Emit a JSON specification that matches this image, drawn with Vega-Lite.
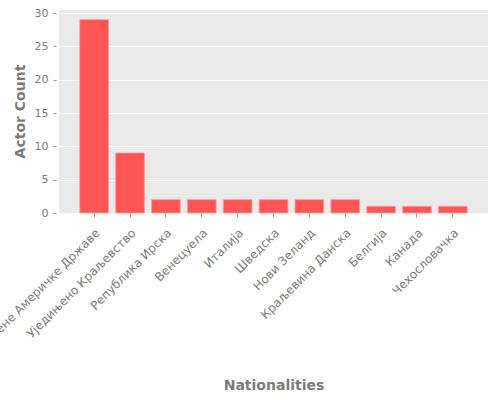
{
  "$schema": "https://vega.github.io/schema/vega-lite/v6.json",
  "width": 429,
  "height": 203,
  "autosize": {"type": "none"},
  "padding": {"left": 59, "top": 10, "right": 12, "bottom": 187},
  "background": "white",
  "data": {
    "values": [
      {"nationality": "Сједињене Америчке Државе", "count": 29},
      {"nationality": "Уједињено Краљевство", "count": 9},
      {"nationality": "Република Ирска", "count": 2},
      {"nationality": "Венецуела", "count": 2},
      {"nationality": "Италија", "count": 2},
      {"nationality": "Шведска", "count": 2},
      {"nationality": "Нови Зеланд", "count": 2},
      {"nationality": "Краљевина Данска", "count": 2},
      {"nationality": "Белгија", "count": 1},
      {"nationality": "Канада", "count": 1},
      {"nationality": "Чехословачка", "count": 1}
    ]
  },
  "mark": {"type": "bar", "fill": "#FF5555", "stroke": "#FF9A9A", "strokeWidth": 0.8},
  "encoding": {
    "x": {
      "field": "nationality",
      "type": "nominal",
      "sort": null,
      "scale": {"paddingInner": 0.2, "paddingOuter": 0.58},
      "axis": {
        "title": "Nationalities",
        "labelAngle": -45,
        "labelAlign": "right",
        "labelBaseline": "top",
        "labelFontSize": 12,
        "labelLimit": 0,
        "labelPadding": 10,
        "labelDx": 2,
        "titleY": 172,
        "titleBaseline": "middle",
        "grid": false
      }
    },
    "y": {
      "field": "count",
      "type": "quantitative",
      "scale": {"domain": [0, 30.45], "nice": false},
      "axis": {
        "title": "Actor Count",
        "values": [0, 5, 10, 15, 20, 25, 30],
        "offset": 3,
        "tickSize": 3,
        "labelPadding": 5,
        "titleX": -36,
        "titleY": 101,
        "titleBaseline": "middle",
        "titleAnchor": "middle",
        "grid": true
      }
    }
  },
  "config": {
    "view": {"fill": "#EAEAEA", "stroke": null},
    "axis": {
      "domain": false,
      "gridColor": "white",
      "gridWidth": 1,
      "tickColor": "#999999",
      "tickSize": 4,
      "labelFont": "DejaVu Sans",
      "labelFontSize": 11,
      "labelColor": "#7A7A7A",
      "labelPadding": 4,
      "titleFont": "DejaVu Sans",
      "titleFontSize": 14,
      "titleFontWeight": "bold",
      "titleColor": "#7A7A7A"
    }
  }
}
